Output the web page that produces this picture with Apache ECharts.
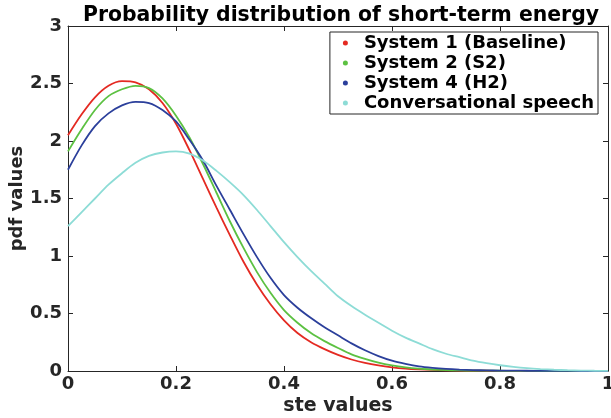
<!DOCTYPE html>
<html>
<head>
<meta charset="utf-8">
<script src="https://cdn.jsdelivr.net/npm/echarts@6/dist/echarts.min.js"></script>
<style>
  html, body { margin: 0; padding: 0; background: #fff; }
  #chart { width: 611px; height: 418px; }
</style>
</head>
<body>
<div id="chart"></div>
<script>
// ste values (x) shared by every curve
const steValues = [0, 0.025, 0.05, 0.075, 0.1, 0.125, 0.15, 0.175, 0.2, 0.225, 0.25, 0.275, 0.3, 0.325, 0.35, 0.375,
  0.4, 0.425, 0.45, 0.475, 0.5, 0.525, 0.55, 0.575, 0.6, 0.625, 0.65, 0.675, 0.7, 0.725, 0.75, 0.775,
  0.8, 0.825, 0.85, 0.875, 0.9, 0.925, 0.95, 0.975, 1];

const system1 = [2.05, 2.23, 2.38, 2.48, 2.52, 2.51, 2.45, 2.33, 2.15, 1.92, 1.67, 1.42, 1.18, 0.95, 0.75, 0.58,
  0.44, 0.33, 0.25, 0.19, 0.14, 0.10, 0.07, 0.048, 0.032, 0.021, 0.014, 0.009, 0.006, 0.004, 0.003, 0.002,
  0.001, 0, 0, 0, 0, 0, 0, 0, 0];
const system2 = [1.91, 2.10, 2.27, 2.39, 2.45, 2.48, 2.46, 2.37, 2.22, 2.03, 1.80, 1.55, 1.30, 1.07, 0.86, 0.68,
  0.53, 0.42, 0.33, 0.26, 0.20, 0.145, 0.105, 0.072, 0.048, 0.031, 0.02, 0.013, 0.008, 0.005, 0.004, 0.003,
  0.002, 0.001, 0.001, 0, 0, 0, 0, 0, 0];
const system4 = [1.75, 1.96, 2.13, 2.24, 2.31, 2.34, 2.33, 2.27, 2.17, 2.01, 1.83, 1.61, 1.40, 1.19, 0.99, 0.81,
  0.66, 0.55, 0.46, 0.38, 0.31, 0.24, 0.18, 0.13, 0.09, 0.062, 0.04, 0.027, 0.018, 0.012, 0.008, 0.005,
  0.004, 0.003, 0.002, 0.001, 0.001, 0.001, 0, 0, 0];
const speech = [1.26, 1.38, 1.50, 1.62, 1.72, 1.81, 1.87, 1.90, 1.91, 1.89, 1.83, 1.74, 1.64, 1.53, 1.40, 1.26,
  1.12, 0.99, 0.87, 0.76, 0.65, 0.565, 0.49, 0.42, 0.35, 0.29, 0.24, 0.19, 0.15, 0.12, 0.09, 0.068,
  0.05, 0.036, 0.025, 0.017, 0.011, 0.007, 0.004, 0.002, 0.001];

const seriesNames = ['System 1 (Baseline)', 'System 2 (S2)', 'System 4 (H2)', 'Conversational speech'];
const seriesColors = ['#e42a22', '#5cc142', '#2b3f9b', '#8ddcd6'];
const seriesValues = [system1, system2, system4, speech];

const textColor = '#262626';
const font = 'DejaVu Sans';

function pairs(ys) {
  return steValues.map((x, i) => [x, ys[i]]);
}

const chart = echarts.init(document.getElementById('chart'));

const baseAxis = {
  axisLine: { show: true, onZero: false, lineStyle: { color: textColor, width: 1 } },
  axisTick: { show: true, inside: true, length: 5, lineStyle: { color: textColor } },
  splitLine: { show: false },
};

chart.setOption({
  animation: false,
  title: {
    text: 'Probability distribution of short-term energy',
    left: 336,
    textAlign: 'center',
    top: 1,
    textStyle: { fontFamily: font, fontWeight: 'bold', fontSize: 20.4, color: '#000' },
  },
  grid: { left: 68, right: 3, top: 26, bottom: 47, outerBoundsMode: 'none', containLabel: false },
  legend: {
    right: 13,
    top: 32,
    orient: 'vertical',
    icon: 'circle',
    itemWidth: 5,
    itemHeight: 5,
    itemGap: 2,
    padding: [2, 4, 2, 13],
    borderColor: textColor,
    borderWidth: 1,
    backgroundColor: '#fff',
    textStyle: {
      fontFamily: font, fontWeight: 'bold', fontSize: 18, lineHeight: 18, color: '#000', padding: [0, 0, 0, 11],
    },
    data: seriesNames,
  },
  xAxis: [
    {
      ...baseAxis,
      type: 'value',
      min: 0,
      max: 1,
      interval: 0.2,
      name: 'ste values',
      nameLocation: 'middle',
      nameGap: 26,
      nameMoveOverlap: false,
      nameTextStyle: { fontFamily: font, fontWeight: 'bold', fontSize: 19, color: textColor },
      axisLabel: { fontFamily: font, fontWeight: 'bold', fontSize: 18, color: textColor, margin: 4 },
    },
    {
      ...baseAxis,
      type: 'value',
      position: 'top',
      min: 0,
      max: 1,
      interval: 0.2,
      axisLabel: { show: false },
    },
  ],
  yAxis: [
    {
      ...baseAxis,
      type: 'value',
      min: 0,
      max: 3,
      interval: 0.5,
      name: 'pdf values',
      nameLocation: 'middle',
      nameGap: 42,
      nameMoveOverlap: false,
      nameTextStyle: { fontFamily: font, fontWeight: 'bold', fontSize: 18, color: textColor },
      axisLabel: { fontFamily: font, fontWeight: 'bold', fontSize: 18, color: textColor, margin: 6 },
    },
    {
      ...baseAxis,
      type: 'value',
      position: 'right',
      min: 0,
      max: 3,
      interval: 0.5,
      axisLabel: { show: false },
    },
  ],
  series: seriesNames.map((name, i) => ({
    name,
    type: 'line',
    data: pairs(seriesValues[i]),
    smooth: 0.3,
    symbol: 'none',
    itemStyle: { color: seriesColors[i] },
    lineStyle: { color: seriesColors[i], width: 1.8 },
  })),
});
</script>
</body>
</html>
